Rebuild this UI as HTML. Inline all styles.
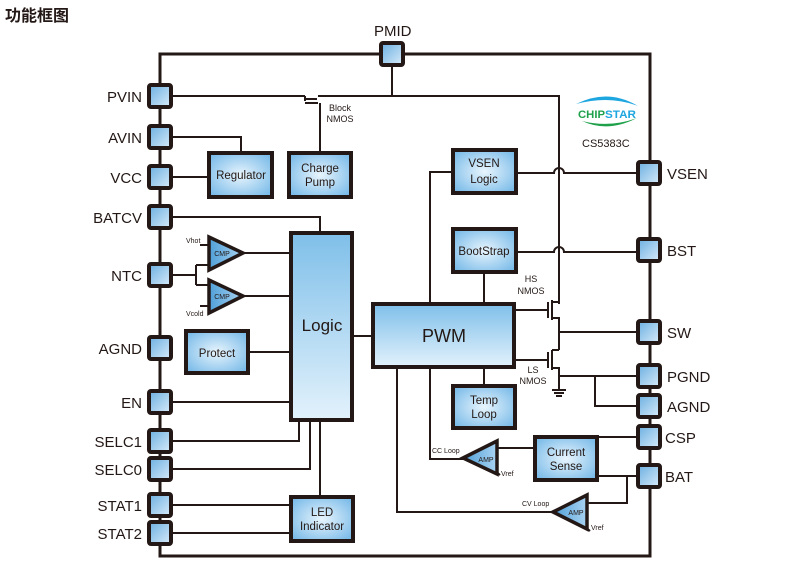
<!DOCTYPE html>
<html><head><meta charset="utf-8"><style>
html,body{margin:0;padding:0;background:#fff;width:795px;height:572px;overflow:hidden}
svg{display:block}
text{font-family:"Liberation Sans","Noto Sans CJK SC",sans-serif;fill:#231815}
</style></head><body>
<svg width="795" height="572" viewBox="0 0 795 572" xmlns="http://www.w3.org/2000/svg">
<defs>
<linearGradient id="g" x1="0" y1="0" x2="0" y2="1">
<stop offset="0" stop-color="#7fbfe9"/><stop offset="1" stop-color="#e3f2fc"/></linearGradient>
<radialGradient id="gb" cx="0.5" cy="0.5" r="0.7">
<stop offset="0" stop-color="#e8f5fd"/><stop offset="1" stop-color="#6db4e6"/></radialGradient>
<linearGradient id="gp" x1="0" y1="0" x2="1" y2="1">
<stop offset="0" stop-color="#6aaee0"/><stop offset="1" stop-color="#d8ecfa"/></linearGradient>
<linearGradient id="gt" x1="0" y1="0" x2="1" y2="0">
<stop offset="0" stop-color="#4f9fd8"/><stop offset="1" stop-color="#a9d3f1"/></linearGradient>
</defs>
<text x="5" y="21" font-size="16" font-weight="bold">功能框图</text>

<g stroke="#231815" stroke-width="3" fill="none">
<rect x="160" y="54" width="490" height="502"/>
</g>

<!-- wires -->
<g stroke="#231815" stroke-width="2" fill="none">
<path d="M160 96 H305"/>
<path d="M305 96 V101"/>
<path d="M318 96 H559 V304"/>
<path d="M392 54 V96"/>
<path d="M305 103 H318"/>
<path d="M306 99 H317"/>
<path d="M320 103 V153"/>
<path d="M160 137 H241 V153"/>
<path d="M160 177 H209"/>
<path d="M160 217 H320 V232"/>
<path d="M160 275 H196 M196 265 V285 M196 265 H208 M196 285 H208"/>
<path d="M200 245 H208 M200 306 H208"/>
<path d="M243 253 H290 M243 296 H290"/>
<path d="M248 352 H290"/>
<path d="M160 402 H290"/>
<path d="M160 441 H299 V420"/>
<path d="M160 469 H310 V420"/>
<path d="M320 420 V497"/>
<path d="M160 505 H290 M160 533 H290"/>
<path d="M352 336 H373"/>
<path d="M453 172 H430 V305"/>
<path d="M484 272 V305"/>
<path d="M516 173 H554 A5 5 0 0 1 564 173 H650"/>
<path d="M516 252 H554 A5 5 0 0 1 564 252 H650"/>
<path d="M514 310 H548 M548 302 V318 M552 300 V320 M552 302 H559 M552 318 H559 V350"/>
<path d="M559 332 H650"/>
<path d="M514 360 H548 M548 352 V368 M552 350 V370 M552 350 H559 M552 368 H559 V390"/>
<path d="M559 376 H650 M595 376 V406 H650"/>
<path d="M552 390 H566 M554 393 H564 M556 396 H562"/>
<path d="M484 367 V386"/>
<path d="M430 367 V459 H463"/>
<path d="M397 367 V512 H553"/>
<path d="M535 448 H497"/>
<path d="M596 437 H650"/>
<path d="M596 476 H650 M627 476 V503 H587"/>
<path d="M492 468 L500 475 M582 524 L590 531"/>
</g>

<!-- blocks -->
<g stroke="#231815" stroke-width="4">
<rect x="209" y="153" width="63" height="44" fill="url(#gb)"/>
<rect x="289" y="153" width="62" height="44" fill="url(#gb)"/>
<rect x="453" y="150" width="63" height="43" fill="url(#gb)"/>
<rect x="453" y="229" width="63" height="43" fill="url(#gb)"/>
<rect x="291" y="233" width="61" height="187" fill="url(#g)"/>
<rect x="373" y="304" width="141" height="63" fill="url(#g)"/>
<rect x="453" y="386" width="62" height="42" fill="url(#gb)"/>
<rect x="535" y="437" width="62" height="43" fill="url(#gb)"/>
<rect x="186" y="331" width="62" height="42" fill="url(#gb)"/>
<rect x="291" y="497" width="62" height="44" fill="url(#gb)"/>
</g>
<g stroke="#231815" stroke-width="3.5" fill="url(#gt)">
<polygon points="209,237 209,270 243,253"/>
<polygon points="209,280 209,313 243,296"/>
<polygon points="463,458 497,441 497,474"/>
<polygon points="553,512 587,495 587,529"/>
</g>

<!-- pins -->
<g stroke="#231815" stroke-width="4" fill="url(#gp)">
<rect x="149" y="85" width="22" height="22" rx="2"/>
<rect x="149" y="126" width="22" height="22" rx="2"/>
<rect x="149" y="166" width="22" height="22" rx="2"/>
<rect x="149" y="206" width="22" height="22" rx="2"/>
<rect x="149" y="264" width="22" height="22" rx="2"/>
<rect x="149" y="337" width="22" height="22" rx="2"/>
<rect x="149" y="391" width="22" height="22" rx="2"/>
<rect x="149" y="430" width="22" height="22" rx="2"/>
<rect x="149" y="458" width="22" height="22" rx="2"/>
<rect x="149" y="494" width="22" height="22" rx="2"/>
<rect x="149" y="522" width="22" height="22" rx="2"/>
<rect x="381" y="43" width="22" height="22" rx="2"/>
<rect x="638" y="162" width="22" height="22" rx="2"/>
<rect x="638" y="239" width="22" height="22" rx="2"/>
<rect x="638" y="321" width="22" height="22" rx="2"/>
<rect x="638" y="365" width="22" height="22" rx="2"/>
<rect x="638" y="395" width="22" height="22" rx="2"/>
<rect x="638" y="426" width="22" height="22" rx="2"/>
<rect x="638" y="465" width="22" height="22" rx="2"/>
</g>

<!-- pin labels -->
<g font-size="15" text-anchor="end">
<text x="142" y="102">PVIN</text>
<text x="142" y="143">AVIN</text>
<text x="142" y="183">VCC</text>
<text x="142" y="223">BATCV</text>
<text x="142" y="281">NTC</text>
<text x="142" y="354">AGND</text>
<text x="142" y="408">EN</text>
<text x="142" y="447">SELC1</text>
<text x="142" y="475">SELC0</text>
<text x="142" y="511">STAT1</text>
<text x="142" y="539">STAT2</text>
</g>
<g font-size="15">
<text x="374" y="36">PMID</text>
<text x="667" y="179">VSEN</text>
<text x="667" y="256">BST</text>
<text x="667" y="338">SW</text>
<text x="667" y="382">PGND</text>
<text x="667" y="412">AGND</text>
<text x="665" y="443">CSP</text>
<text x="665" y="482">BAT</text>
</g>

<!-- block labels -->
<g font-size="11.5" text-anchor="middle">
<text x="241" y="179">Regulator</text>
<text x="320" y="172">Charge</text><text x="320" y="186">Pump</text>
<text x="484" y="167">VSEN</text><text x="484" y="183">Logic</text>
<text x="484" y="255">BootStrap</text>
<text x="484" y="404">Temp</text><text x="484" y="418">Loop</text>
<text x="566" y="456">Current</text><text x="566" y="470">Sense</text>
<text x="217" y="357">Protect</text>
<text x="322" y="516">LED</text><text x="322" y="530">Indicator</text>
</g>
<text x="322" y="331" font-size="17" text-anchor="middle">Logic</text>
<text x="444" y="342" font-size="18" text-anchor="middle">PWM</text>
<g font-size="7" text-anchor="middle">
<text x="222" y="256">CMP</text><text x="222" y="299">CMP</text>
<text x="486" y="462">AMP</text><text x="576" y="515">AMP</text>
</g>
<g font-size="7">
<text x="186" y="243">Vhot</text><text x="186" y="316">Vcold</text>
<text x="501" y="476">Vref</text><text x="591" y="530">Vref</text>
<text x="432" y="453">CC Loop</text><text x="522" y="506">CV Loop</text>
</g>
<g font-size="9" text-anchor="middle">
<text x="340" y="111">Block</text><text x="340" y="122">NMOS</text>
<text x="531" y="282">HS</text><text x="531" y="294">NMOS</text>
<text x="533" y="373">LS</text><text x="533" y="384">NMOS</text>
</g>

<!-- logo -->
<path d="M576 104 Q608 88 638 106 Q610 95 576 104 Z" fill="#1ea6e0"/>
<path d="M582 121 Q608 133 637 118 Q610 128 582 121 Z" fill="#1fa04a"/>
<text x="578" y="118" font-size="11" font-weight="bold" style="fill:#1fa04a" textLength="27" lengthAdjust="spacingAndGlyphs">CHIP</text>
<text x="605" y="118" font-size="11" font-weight="bold" style="fill:#1ea6e0" textLength="31" lengthAdjust="spacingAndGlyphs">STAR</text>
<text x="582" y="147" font-size="11">CS5383C</text>
</svg>
</body></html>
